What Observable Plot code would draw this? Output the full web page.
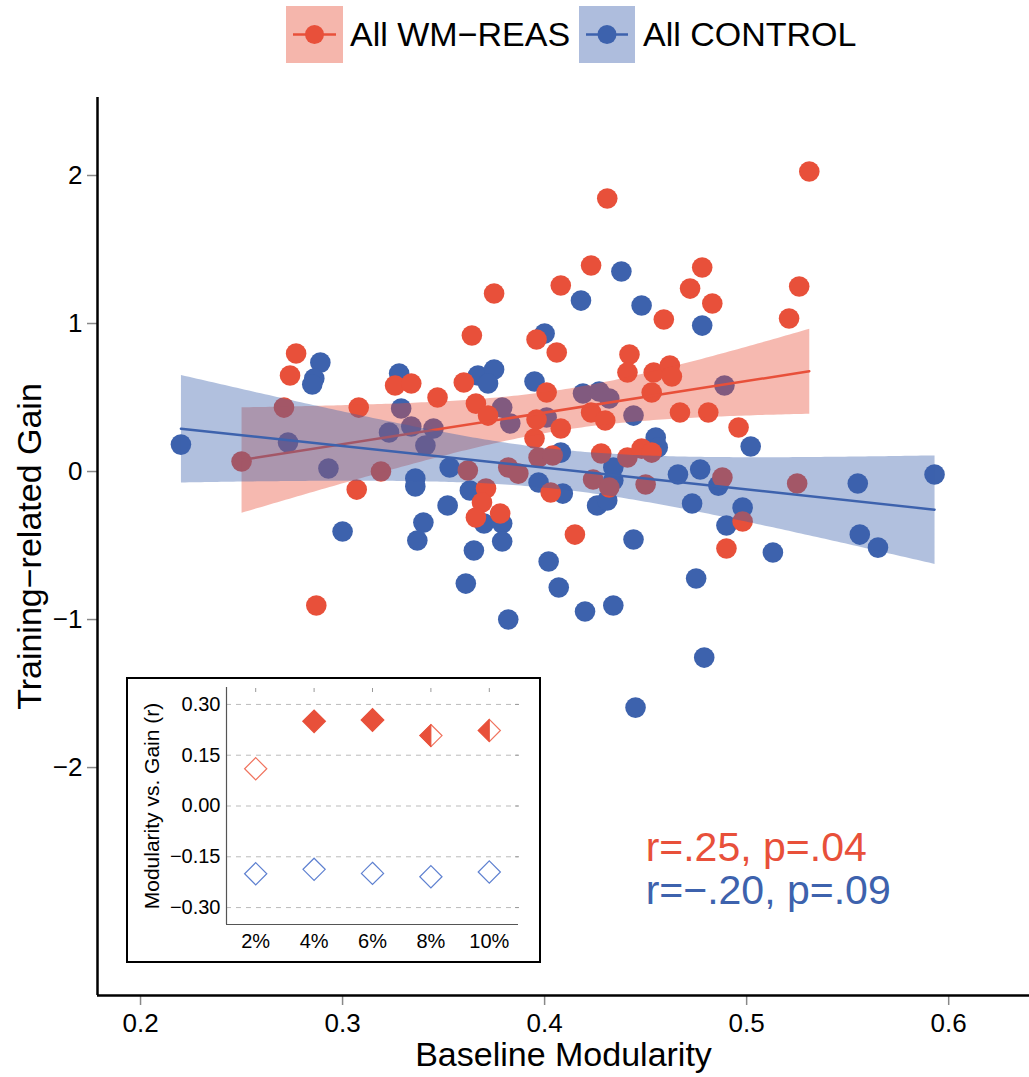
<!DOCTYPE html>
<html><head><meta charset="utf-8">
<script src="https://cdn.jsdelivr.net/npm/d3@7"></script>
<script src="https://cdn.jsdelivr.net/npm/@observablehq/plot@0.6"></script>
<style>
body{margin:0;background:#fff;font-family:"Liberation Sans",Arial,Helvetica,sans-serif;}
#wrap{position:relative;width:1029px;height:1077px;overflow:hidden;background:#fff;}
#main{position:absolute;left:0;top:0;}
#legend{position:absolute;left:0;top:0;width:1029px;height:70px;}
#inset{position:absolute;left:126px;top:677px;width:411px;height:282px;border:2px solid #000;background:#fff;}
.lbox{position:absolute;top:6px;height:57px;}
.ltxt{position:absolute;top:14px;font-size:34px;line-height:40px;color:#000;white-space:nowrap;}
</style></head>
<body><div id="wrap"><div id="main"></div><div id="legend"></div><div id="inset"></div></div>
<script>
// ---- Data: WM-REAS group (baseline modularity, training-related gain)
const wmX = [0.250,0.277,0.274,0.271,0.287,0.308,0.307,0.319,0.326,0.334,
  0.347,0.431,0.423,0.408,0.375,0.364,0.396,0.406,0.459,0.472,
  0.478,0.483,0.442,0.441,0.454,0.462,0.463,0.453,0.360,0.366,
  0.372,0.401,0.396,0.408,0.395,0.423,0.430,0.467,0.481,0.428,
  0.441,0.448,0.453,0.362,0.382,0.387,0.397,0.404,0.424,0.432,
  0.450,0.403,0.371,0.369,0.366,0.378,0.415,0.531,0.526,0.521,
  0.496,0.488,0.525,0.498,0.490];
const wmY = [0.068,0.797,0.649,0.432,-0.905,0.432,-0.122,0.000,0.581,0.595,
  0.500,1.845,1.392,1.257,1.203,0.919,0.892,0.804,1.027,1.236,
  1.378,1.135,0.791,0.669,0.669,0.716,0.642,0.534,0.601,0.459,
  0.378,0.534,0.351,0.291,0.223,0.399,0.345,0.399,0.399,0.122,
  0.095,0.155,0.128,0.007,0.027,-0.014,0.095,0.108,-0.054,-0.108,
  -0.088,-0.142,-0.115,-0.209,-0.311,-0.284,-0.426,2.027,1.250,1.034,
  0.297,-0.041,-0.081,-0.338,-0.520];
// ---- Data: CONTROL group
const ctX = [0.220,0.289,0.286,0.285,0.273,0.293,0.300,0.328,0.329,0.323,
  0.334,0.341,0.345,0.336,0.336,0.352,0.340,0.337,0.361,0.438,
  0.418,0.448,0.400,0.367,0.375,0.372,0.395,0.419,0.427,0.432,
  0.379,0.383,0.401,0.444,0.455,0.456,0.478,0.353,0.397,0.408,
  0.434,0.434,0.466,0.477,0.409,0.363,0.426,0.431,0.473,0.370,
  0.379,0.379,0.365,0.402,0.444,0.382,0.407,0.420,0.434,0.486,
  0.498,0.490,0.502,0.513,0.475,0.479,0.445,0.489,0.555,0.593,
  0.556,0.565];
const ctY = [0.182,0.736,0.628,0.588,0.196,0.020,-0.405,0.662,0.426,0.264,
  0.304,0.176,0.291,-0.047,-0.101,-0.230,-0.345,-0.466,-0.757,1.351,
  1.155,1.122,0.932,0.649,0.689,0.595,0.608,0.527,0.541,0.493,
  0.432,0.324,0.365,0.378,0.230,0.162,0.986,0.027,-0.074,0.128,
  0.027,-0.061,-0.020,0.014,-0.149,-0.128,-0.230,-0.196,-0.216,-0.351,
  -0.351,-0.473,-0.534,-0.608,-0.459,-1.000,-0.784,-0.946,-0.905,-0.095,
  -0.243,-0.365,0.169,-0.547,-0.723,-1.257,-1.595,0.581,-0.081,-0.020,
  -0.426,-0.514];
const xTicks = [0.2,0.3,0.4,0.5,0.6];
const yTicks = [-2,-1,0,1,2];
const seriesNames = ["All WM\u2212REAS","All CONTROL"];
const statLabels = ["r=.25, p=.04","r=\u2212.20, p=.09"];
// ---- Inset data: correlation r by threshold
const thresholds = [2,4,6,8,10];
const wmR = [0.110,0.250,0.254,0.208,0.223];
const ctR = [-0.200,-0.187,-0.199,-0.209,-0.195];
const wmSig = ["none","full","full","half","half"];
const rTicks = [-0.30,-0.15,0.00,0.15,0.30];

const RED = "#E8503A", BLUE = "#3D62AD";
const FONT = "'Liberation Sans', Arial, Helvetica, sans-serif";

const wm = wmX.map((x,i)=>({x, y: wmY[i]}));
const ct = ctX.map((x,i)=>({x, y: ctY[i]}));
const minus = d => (d<0?"\u2212":"") + Math.abs(d);

const main = Plot.plot({
  width:1029, height:1077,
  marginLeft:97, marginRight:0, marginTop:97, marginBottom:82,
  style:{fontFamily:FONT, fontSize:"26px", background:"#fff", overflow:"visible"},
  x:{domain:[0.1787,0.640]},
  y:{domain:[-3.54,2.527]},
  marks:[
    Plot.dot(ct,{x:"x", y:"y", r:10.3, fill:BLUE}),
    Plot.dot(wm,{x:"x", y:"y", r:10.3, fill:RED}),
    Plot.linearRegressionY(wm,{x:"x", y:"y", stroke:RED, fill:RED, fillOpacity:0.4, strokeWidth:2.5}),
    Plot.linearRegressionY(ct,{x:"x", y:"y", stroke:BLUE, fill:BLUE, fillOpacity:0.4, strokeWidth:2.5}),
    Plot.axisX(xTicks,{tickSize:10, tickPadding:8, stroke:"#888", strokeWidth:1.5, label:null, tickFormat:d=>d.toFixed(1)}),
    Plot.axisY(yTicks,{tickSize:10, tickPadding:5, stroke:"#888", strokeWidth:1.5, label:null, tickFormat:minus}),
    Plot.ruleX([0.1787],{stroke:"#000", strokeWidth:2.5}),
    Plot.ruleY([-3.54],{stroke:"#000", strokeWidth:2.5}),
    Plot.text(["Baseline Modularity"],{frameAnchor:"bottom", dy:60, text:d=>d, fontSize:34, fill:"#000", textAnchor:"middle", lineAnchor:"middle"}),
    Plot.text(["Training\u2212related Gain"],{frameAnchor:"left", dx:-67, rotate:-90, text:d=>d, fontSize:34, fill:"#000", textAnchor:"middle", lineAnchor:"middle"}),
    Plot.text([statLabels[0]],{x:()=>0.45, y:()=>-2.63, text:d=>d, fontSize:41, fill:RED, textAnchor:"start", lineAnchor:"bottom"}),
    Plot.text([statLabels[1]],{x:()=>0.45, y:()=>-2.92, text:d=>d, fontSize:41, fill:BLUE, textAnchor:"start", lineAnchor:"bottom"})
  ]
});
document.getElementById("main").appendChild(main);

// ---- Legend
const legend = document.getElementById("legend");
const legItems = [
  {name:seriesNames[0], color:RED, bg:"rgba(232,80,58,0.42)", box:286, w:57, txt:350},
  {name:seriesNames[1], color:BLUE, bg:"rgba(61,98,173,0.42)", box:579, w:56, txt:643}
];
legItems.forEach(it=>{
  const b = document.createElement("div");
  b.className="lbox";
  b.style.left = it.box+"px"; b.style.width = it.w+"px"; b.style.background = it.bg;
  b.innerHTML = `<svg width="${it.w}" height="57"><line x1="7" x2="${it.w-7}" y1="28.5" y2="28.5" stroke="${it.color}" stroke-width="2.5"/><circle cx="${it.w/2}" cy="28.5" r="9.5" fill="${it.color}"/></svg>`;
  legend.appendChild(b);
  const t = document.createElement("div");
  t.className="ltxt"; t.style.left = it.txt+"px"; t.textContent = it.name;
  legend.appendChild(t);
});

// ---- Inset
const halfLeft = {draw(ctx, size){const r=Math.sqrt(size)*0.62625; ctx.moveTo(0,-r); ctx.lineTo(-r,0); ctx.lineTo(0,r); ctx.closePath();}};
const wmRows = thresholds.map((t,i)=>({t, r: wmR[i], sig: wmSig[i]}));
const ctRows = thresholds.map((t,i)=>({t, r: ctR[i]}));
const fmtR = d => (d<0?"\u2212":"") + Math.abs(d).toFixed(2);
const inset = Plot.plot({
  width:411, height:282,
  marginLeft:98, marginTop:8, marginRight:21, marginBottom:37,
  style:{fontFamily:FONT, fontSize:"20px", background:"#fff", overflow:"visible"},
  x:{domain:[1,11]},
  y:{domain:[-0.35,0.35]},
  marks:[
    Plot.gridY(rTicks,{stroke:"#bbb", strokeOpacity:1, strokeDasharray:"5,5"}),
    Plot.axisY(rTicks,{tickSize:0, tickPadding:6, tickFormat:fmtR, label:null}),
    Plot.axisY(rTicks,{anchor:"right", tickSize:4, dx:-4, stroke:"#999", tickFormat:()=>"", label:null}),
    Plot.axisX(thresholds,{tickSize:0, tickPadding:9, tickFormat:d=>d+"%", label:null}),
    Plot.axisX(thresholds,{anchor:"top", tickSize:4, dy:4, stroke:"#999", tickFormat:()=>"", label:null}),
    Plot.ruleX([1],{stroke:"#555", strokeWidth:1.2}),
    Plot.ruleY([-0.35],{stroke:"#555", strokeWidth:1.2}),
    Plot.text(["Modularity vs. Gain (r)"],{frameAnchor:"left", dx:-74, rotate:-90, text:d=>d, fontSize:21, fill:"#000", textAnchor:"middle", lineAnchor:"middle"}),
    Plot.dot(ctRows,{x:"t", y:"r", symbol:"diamond2", r:10, fill:"#fff", stroke:"#5E80D0", strokeWidth:1.2}),
    Plot.dot(wmRows.filter(d=>d.sig!=="full"),{x:"t", y:"r", symbol:"diamond2", r:10, fill:"#fff", stroke:"#F0735E", strokeWidth:1.2}),
    Plot.dot(wmRows.filter(d=>d.sig==="half"),{x:"t", y:"r", symbol:halfLeft, r:10, fill:RED, stroke:RED, strokeWidth:1}),
    Plot.dot(wmRows.filter(d=>d.sig==="full"),{x:"t", y:"r", symbol:"diamond2", r:10, fill:RED, stroke:RED, strokeWidth:1.5})
  ]
});
document.getElementById("inset").appendChild(inset);
</script>
</body></html>
